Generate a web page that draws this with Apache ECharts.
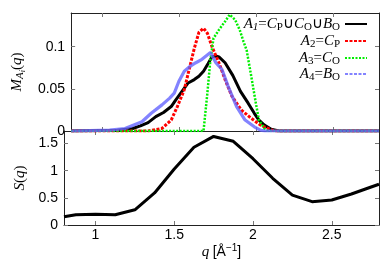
<!DOCTYPE html>
<html><head><meta charset="utf-8">
<script src="https://cdn.jsdelivr.net/npm/echarts@6/dist/echarts.min.js"></script>
<style>html,body{margin:0;padding:0;background:#fff}#c{width:382px;height:262px}</style>
</head><body><div id="c"></div>
<script>
// ---- data ----
const qA1 = [0.8,1.1,1.2,1.25,1.3,1.35,1.4,1.45,1.48,1.52,1.56,1.6,1.63,1.66,1.69,1.715,1.74,1.76,1.8,1.85,1.9,1.95,1.99,2.02,2.055,2.1,2.15,2.8];
const mA1 = [0,0.001,0.003,0.006,0.010,0.017,0.022,0.029,0.037,0.047,0.057,0.061,0.065,0.071,0.080,0.088,0.089,0.088,0.081,0.066,0.047,0.033,0.021,0.013,0.007,0.002,0,0];
const qA2 = [0.8,1.3,1.39,1.45,1.49,1.535,1.56,1.6,1.63,1.66,1.685,1.715,1.76,1.8,1.845,1.905,1.97,2.03,2.08,2.12,2.8];
const mA2 = [0,0,0.003,0.013,0.029,0.049,0.068,0.098,0.117,0.122,0.116,0.100,0.081,0.061,0.041,0.025,0.015,0.007,0.003,0,0];
const qA3 = [0.8,1.66,1.685,1.705,1.725,1.76,1.8,1.83,1.865,1.895,1.92,1.94,1.97,2.0,2.02,2.055,2.08,2.8];
const mA3 = [0,0,0.045,0.085,0.110,0.120,0.130,0.138,0.132,0.120,0.106,0.096,0.065,0.033,0.013,0.003,0,0];
const qA4 = [0.8,1.05,1.15,1.26,1.32,1.39,1.44,1.47,1.5,1.535,1.575,1.61,1.65,1.705,1.74,1.78,1.82,1.875,1.93,1.99,2.03,2.06,2.8];
const mA4 = [0,0.001,0.003,0.011,0.021,0.031,0.039,0.045,0.059,0.071,0.077,0.081,0.085,0.093,0.081,0.073,0.053,0.029,0.013,0.005,0.001,0,0];
const qS = [0.8,0.875,1.0,1.125,1.25,1.375,1.5,1.625,1.75,1.875,2.0,2.125,2.25,2.375,2.5,2.625,2.75,2.8];
const sQ = [0.15,0.19,0.2,0.19,0.28,0.59,1.03,1.43,1.63,1.54,1.22,0.86,0.55,0.43,0.46,0.57,0.70,0.75];
const xTicks = [1,1.5,2,2.5];
const yTopTicks = [0,0.05,0.1];
const yBotTicks = [0,0.5,1,1.5];

const zip = (a,b)=>a.map((v,i)=>[v,b[i]]);
const serif = 'Liberation Serif, Times New Roman, serif';
const sans = 'Liberation Sans, Arial, sans-serif';
const frame = '#222';
const tickCol = '#777';

const rich = {
  i:{fontFamily:serif,fontStyle:'italic',fontSize:15,lineHeight:18,color:'#000'},
  n:{fontFamily:serif,fontSize:15,lineHeight:18,color:'#000'},
  s:{fontFamily:serif,fontSize:11,lineHeight:11,padding:[7,0,0,0],verticalAlign:'top',color:'#000'},
  si:{fontFamily:serif,fontStyle:'italic',fontSize:11,lineHeight:11,padding:[7,0,0,0],verticalAlign:'top',color:'#000'},
  ss:{fontFamily:serif,fontStyle:'italic',fontSize:8,lineHeight:8,padding:[11,0,0,0],verticalAlign:'top',color:'#000'},
  sn:{fontFamily:sans,fontSize:14,lineHeight:18,color:'#000'},
  sup:{fontFamily:sans,fontSize:10,lineHeight:10,padding:[0,0,0,0],verticalAlign:'top',color:'#000'}
};
const legendText = {
  A1:'{i|A}{si|1}{n|=}{i|C}{s|P}{n|∪}{i|C}{s|O}{n|∪}{i|B}{s|O}',
  A2:'{i|A}{s|2}{n|=}{i|C}{s|P}',
  A3:'{i|A}{s|3}{n|=}{i|C}{s|O}',
  A4:'{i|A}{s|4}{n|=}{i|B}{s|O}'
};

function xAx(grid, pos, labels){
  return {type:'value',gridIndex:grid,position:pos,min:0.8,max:2.8,
    axisLine:{show:true,onZero:false,lineStyle:{color:frame,width:1}},
    axisTick:{show:true,inside:true,length:4,customValues:xTicks,lineStyle:{color:tickCol}},
    axisLabel:{show:labels,customValues:xTicks,color:'#000',fontFamily:sans,fontSize:14,margin:3},
    splitLine:{show:false}};
}
function yAx(grid,pos,max,ticks,labels){
  return {type:'value',gridIndex:grid,position:pos,min:0,max:max,
    axisLine:{show:true,onZero:false,lineStyle:{color:frame,width:1}},
    axisTick:{show:true,inside:true,length:4,customValues:ticks,lineStyle:{color:tickCol}},
    axisLabel:{show:labels,customValues:ticks,color:'#000',fontFamily:sans,fontSize:14,margin:6},
    splitLine:{show:false}};
}
const xa = [xAx(0,'bottom',false),xAx(0,'top',false),xAx(1,'bottom',true),xAx(1,'top',false)];
xa[2].name = '{i|q} {sn|[Å}{sup|−1}{sn|]}';
xa[2].nameLocation = 'middle';
xa[2].nameGap = 18;
xa[2].nameTextStyle = {rich:rich};
const ya = [yAx(0,'left',0.14,yTopTicks,true),yAx(0,'right',0.14,yTopTicks,false),
            yAx(1,'left',1.73,yBotTicks,true),yAx(1,'right',1.73,yBotTicks,false)];
ya[0].name = '{i|M}{si|A}{ss|i}{n|(}{i|q}{n|)}';
ya[0].nameLocation='middle'; ya[0].nameGap=36; ya[0].nameTextStyle={rich:rich};
ya[2].name = '{i|S}{n|(}{i|q}{n|)}';
ya[2].nameLocation='middle'; ya[2].nameGap=28; ya[2].nameTextStyle={rich:rich};

function line(name,q,v,color,width,type,opacity){
  return {name:name,type:'line',xAxisIndex:0,yAxisIndex:0,data:zip(q,v),symbol:'none',
    lineStyle:{color:color,width:width,type:type,opacity:opacity},itemStyle:{color:color},
    animation:false,z:2};
}
const series = [
  line('A1',qA1,mA1,'#000',3,'solid',1),
  line('A2',qA2,mA2,'#ff0000',3,[3,1.5],1),
  line('A3',qA3,mA3,'#00ee00',2.5,[2,1.5],1),
  line('A4',qA4,mA4,'#6464ff',3.2,'solid',0.8),
  {name:'S',type:'line',xAxisIndex:2,yAxisIndex:2,data:zip(qS,sQ),symbol:'none',
   lineStyle:{color:'#000',width:3},animation:false}
];
const legTops = [15,32,49,65];
const legends = ['A1','A2','A3','A4'].map((n,k)=>{
  const l = {
    data:[n],orient:'vertical',right:14,top:legTops[k],padding:0,align:'right',
    itemWidth:22,itemHeight:10,selectedMode:false,
    itemStyle:{opacity:0},
    formatter:(nm)=>legendText[nm],textStyle:{rich:rich}
  };
  if(n==='A4') l.lineStyle = {type:[3,1.5]};
  return l;
});

const chart = echarts.init(document.getElementById('c'),null,{renderer:'canvas'});
chart.setOption({
  animation:false,
  backgroundColor:'#fff',
  grid:[{left:64,right:3,top:13,height:118},{left:64,right:3,top:131,height:94}],
  xAxis:xa, yAxis:ya, series:series, legend:legends
});
</script></body></html>
